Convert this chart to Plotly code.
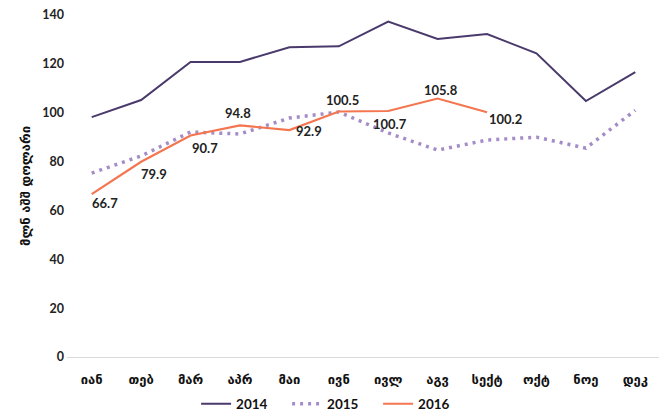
import plotly.graph_objects as go

months = ["იან", "თებ", "მარ", "აპრ", "მაი", "ივნ", "ივლ", "აგვ", "სექტ", "ოქტ", "ნოე", "დეკ"]
v2014 = [98.2, 105.2, 120.8, 120.8, 126.8, 127.2, 137.3, 130.2, 132.2, 124.3, 104.8, 116.6]
v2015 = [75.3, 82.3, 92.1, 91.3, 97.8, 100.3, 91.7, 84.7, 88.8, 90.0, 85.5, 101.0]
v2016 = [66.7, 79.9, 90.7, 94.8, 92.9, 100.5, 100.7, 105.8, 100.2]
# label offsets (pixels) for the 2016 data labels
lab_dx = [13, 13, 14, -2, 20, 4, 2, 3, 18]
lab_dy = [-9, -12, -13, 12, -1, 11, -13, 9, -7]

fig = go.Figure()
fig.add_trace(go.Scatter(x=months, y=v2014, mode="lines", name="2014",
                         line=dict(color="#4A3A6C", width=2)))
fig.add_trace(go.Scatter(x=months, y=v2015, mode="lines", name="2015",
                         line=dict(color="#A48CC6", width=3.5, dash="3px,5px")))
fig.add_trace(go.Scatter(x=months[:len(v2016)], y=v2016, mode="lines", name="2016",
                         line=dict(color="#F37650", width=2.2)))

for m, v, dx, dy in zip(months, v2016, lab_dx, lab_dy):
    fig.add_annotation(x=m, y=v, text=f"{v:.1f}", showarrow=False, xshift=dx, yshift=dy,
                       font=dict(family="Lato", size=13, color="#222222", weight="bold"))

fig.update_layout(
    width=667, height=419,
    margin=dict(l=59, r=15, t=7, b=70, autoexpand=False),
    plot_bgcolor="white", paper_bgcolor="white",
    font=dict(family="Lato", size=13, color="#222222", weight="bold"),
    showlegend=True,
    legend=dict(orientation="h", xref="container", yref="container",
                x=0.282, xanchor="left", y=0.055, yanchor="middle",
                font=dict(family="Lato", size=13.5, color="#111111", weight="bold"),
                traceorder="normal", entrywidth=46, entrywidthmode="pixels"),
    xaxis=dict(type="category", range=[-0.5, 11.5], showgrid=False, showline=True,
               linecolor="#D9D9D9", linewidth=1, ticks="", ticklabelstandoff=10,
               tickfont=dict(family="DejaVu Sans", size=13, color="#111111", weight="bold")),
    yaxis=dict(range=[0, 140], dtick=20, showgrid=False, zeroline=False, showline=False,
               ticklabeloverflow="allow", ticklabelstandoff=2,
               tickfont=dict(family="Lato", size=12.5, color="#222222", weight="bold"),
               title=dict(text="მლნ აშშ დოლარი",
                          font=dict(family="DejaVu Sans", size=13, color="#111111", weight="bold"),
                          standoff=8)),
)
fig.update_yaxes(tickformat="d")
fig.write_html("out.html")
